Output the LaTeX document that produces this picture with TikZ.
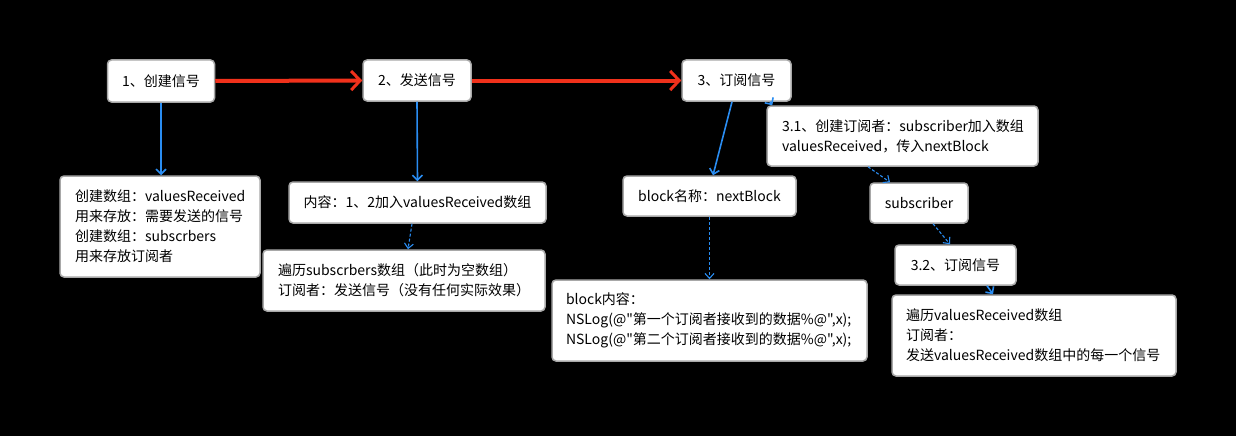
\documentclass[tikz,border=0pt]{standalone}
\usepackage{fontspec}
\newfontfamily\sigfont{Noto Sans CJK SC}
\usepackage{tikz}
\usetikzlibrary{arrows.meta,positioning,calc}
\definecolor{sigblue}{HTML}{2A8DF2}
\definecolor{sigred}{HTML}{F0311B}
\definecolor{sigedge}{HTML}{A8A8A8}
\tikzset{
  sigBox/.style={draw=sigedge, fill=white, line width=1.5pt, rounded corners=4pt, inner sep=0pt, font=\sigfont\fontsize{14}{20}\selectfont},
  noteBox/.style={sigBox, align=left, inner xsep=15pt, inner ysep=0pt},
  flowArrow/.style={-{Straight Barb[length=9pt,width=19pt,line width=3pt]}, line width=4pt, draw=sigred},
  stepArrow/.style={-{Straight Barb[length=5pt,width=10pt]}, line width=1.6pt, draw=sigblue},
  linkDots/.style={-{Straight Barb[length=5pt,width=9pt]}, densely dashed, line width=1.1pt, draw=sigblue}
}

\begin{document}
\begin{tikzpicture}[x=1pt,y=-1pt]
  \fill[black] (0,0) rectangle (1236,436);
  \node[sigBox, minimum width=107pt, minimum height=42pt] (create) at (161,81) {1、创建信号};
  \node[sigBox, minimum width=108pt, minimum height=41pt] (send) at (417,80.5) {2、发送信号};
  \node[sigBox, minimum width=109pt, minimum height=41pt] (subscribe) at (736.5,80.5) {3、订阅信号};
  \node[noteBox, text width=170pt, minimum height=101pt] (arrays) at (160,226.5) {创建数组：valuesReceived\\用来存放：需要发送的信号\\创建数组：subscrbers\\用来存放订阅者};
  \node[sigBox, minimum width=257pt, minimum height=41pt] (content) at (417.5,202.5) {内容：1、2加入valuesReceived数组};
  \node[noteBox, text width=252pt, minimum height=61pt] (empty) at (404,280.5) {遍历subscrbers数组（此时为空数组）\\订阅者：发送信号（没有任何实际效果）};
  \node[sigBox, minimum width=173pt, minimum height=40pt] (blockname) at (709.5,196) {block名称：nextBlock};
  \node[noteBox, text width=287pt, inner xsep=14pt, minimum height=81pt] (blockbody) at (709.5,320.5) {block内容：\\NSLog(@"第一个订阅者接收到的数据\%@",x);\\NSLog(@"第二个订阅者接收到的数据\%@",x);};
  \node[noteBox, text width=241pt, minimum height=60pt] (makesub) at (902.5,136) {3.1、创建订阅者：subscriber加入数组\\valuesReceived，传入nextBlock};
  \node[sigBox, minimum width=98pt, minimum height=40pt] (subscriber) at (919,203) {subscriber};
  \node[sigBox, minimum width=121pt, minimum height=40pt] (resub) at (955.5,265) {3.2、订阅信号};
  \node[noteBox, text width=256pt, inner xsep=14pt, minimum height=81pt] (sendall) at (1034,335.5) {遍历valuesReceived数组\\订阅者：\\发送valuesReceived数组中的每一个信号};

  \draw[flowArrow] (create.east) -- (send.west);
  \draw[flowArrow] (send.east) -- (subscribe.west);
  \draw[stepArrow] (create.south) -- (create.south |- arrays.north);
  \draw[stepArrow] (send.south) -- (content.north);
  \draw[linkDots] ([xshift=-5.5pt]content.south) -- ([xshift=4pt]empty.north);
  \draw[stepArrow] ([xshift=-4.5pt]subscribe.south) -- ([xshift=3.5pt]blockname.north);
  \draw[linkDots] (blockname.south) -- (blockbody.north);
  \draw[stepArrow] ([xshift=33.5pt]subscribe.south) -- ([xshift=6pt]makesub.north west);
  \draw[linkDots] ([xshift=-34.5pt]makesub.south) -- ([xshift=-29pt]subscriber.north);
  \draw[linkDots] ([xshift=14pt]subscriber.south) -- ([xshift=-5.5pt]resub.north);
  \draw[stepArrow] ([xshift=31.5pt]resub.south) -- ([xshift=-41pt]sendall.north);
\end{tikzpicture}
\end{document}
